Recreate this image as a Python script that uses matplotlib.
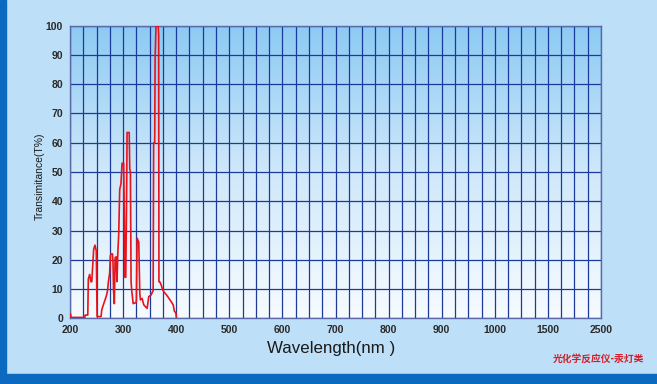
import numpy as np
import matplotlib
matplotlib.use("Agg")
import matplotlib.pyplot as plt
from matplotlib.patches import Rectangle

# spectrum (wavelength nm, transmittance %)
wavelength = [200, 201, 202, 228, 228.5, 233.5, 234.5, 237, 239.5, 241, 244.6, 247, 249.5, 251,
              258.5, 259.8, 262.8, 266, 269, 271, 272, 274.7, 276, 277, 280, 281, 282, 283.5,
              285, 287, 288.5, 290, 291.8, 293.6, 296, 298, 301, 302.5, 303.5, 305, 306.5,
              307.5, 311.5, 312.5, 313.8, 315, 316.5, 319, 320, 323.8, 325, 326.4, 329.5,
              331.4, 332.6, 335.8, 338.9, 342, 345.3, 348.3, 352.8, 355.3, 356.6, 357.5,
              359.5, 360.3, 362, 366, 367, 367.5, 369, 371.7, 374.7, 376.6, 381.7, 386,
              390.5, 394.3, 396.8, 399.2, 400.5]
transmittance = [1.5, 1.5, 0.3, 0.3, 1.1, 1.1, 13.4, 15, 12.5, 12.5, 23.6, 25, 23, 0.6,
                 0.6, 2.9, 4.6, 6.3, 8, 9.8, 12, 15.5, 21.3, 22, 22, 19, 9.5, 5,
                 20.7, 21, 12.5, 22, 29, 44, 46, 53, 53, 32, 14, 14, 40,
                 63.5, 63.5, 51, 50, 12.5, 9, 5, 5.1, 5.3, 6, 27.4, 26,
                 8.6, 6.3, 6.8, 4.6, 4, 3.4, 7.4, 8, 9, 9.5, 60,
                 60, 89, 100, 100, 97, 12.5, 12.5, 11.4, 9.7, 9.1, 8, 6.9,
                 5.7, 4.6, 2.3, 2, 0]

x_ticks = [200, 300, 400, 500, 600, 700, 800, 900, 1000, 1500, 2500]
y_ticks = [0, 10, 20, 30, 40, 50, 60, 70, 80, 90, 100]

# the axis is linear up to 1000 nm, then compressed
brk_nm = [200, 1000, 1500, 2500]
brk_pos = [0, 8, 9, 10]


def fwd(x):
    return np.interp(x, brk_nm, brk_pos)


def inv(p):
    return np.interp(p, brk_pos, brk_nm)


minor = np.concatenate([np.arange(200, 1000, 25), np.arange(1000, 1500, 125),
                        np.arange(1500, 2501, 250)])

fig = plt.figure(figsize=(6.57, 3.84), dpi=100)
fig.patch.set_facecolor("#bddff7")

# dark frame strips
fig.add_artist(Rectangle((0, 0), 6 / 657, 1, transform=fig.transFigure,
                         color="#0b69bf", zorder=0))
fig.add_artist(Rectangle((0, 0), 1, 10 / 384, transform=fig.transFigure,
                         color="#0b69bf", zorder=0))

ax = fig.add_axes([70 / 657, 1 - 318.3 / 384, 531 / 657, 292.6 / 384])
ax.set_xscale("function", functions=(fwd, inv))
ax.set_xlim(200, 2500)
ax.set_ylim(0, 100)

# blue-to-white gradient inside the plot area
grad = np.linspace(0, 1, 256).reshape(-1, 1)
cmap = matplotlib.colors.LinearSegmentedColormap.from_list(
    "bg", ["#f6fbff", "#cfe8fa", "#8ccaf3"])
ax.imshow(grad, extent=[0, 1, 0, 1], transform=ax.transAxes, origin="lower",
          aspect="auto", cmap=cmap, zorder=0)

grid_c = "#1c3a9c"
for v in minor:
    ax.axvline(v, color=grid_c, lw=0.9, zorder=1)
for v in y_ticks:
    ax.axhline(v, color=grid_c, lw=0.9, zorder=1)

ax.plot(wavelength, transmittance, color="#e8141c", lw=1.2, zorder=3)

ax.set_xticks(x_ticks)
ax.set_xticklabels([str(t) for t in x_ticks])
ax.set_xticks([], minor=True)
ax.set_yticks(y_ticks)
ax.tick_params(length=0, labelsize=7.5, labelcolor="#2a2a2a")
ax.tick_params(axis="x", pad=5)
ax.tick_params(axis="y", pad=5)
for lab in ax.get_xticklabels() + ax.get_yticklabels():
    lab.set_family("Liberation Sans")
    lab.set_fontweight("bold")
for s in ax.spines.values():
    s.set_color("#5a6aa8")
    s.set_linewidth(1)

fig.text(331 / 657, 1 - 348 / 384, "Wavelength(nm )", ha="center", va="center",
         fontsize=12.2, family="Liberation Sans", color="#1a1a1a")
fig.text(40 / 657, 1 - 176 / 384, "Transimitance(T%)", ha="center", va="center",
         rotation=90, fontsize=7.5, family="Liberation Sans", color="#1a1a1a")
fig.text(598 / 657, 1 - 359 / 384, "光化学反应仪-汞灯类", ha="center", va="center",
         fontsize=7, family=["Noto Sans CJK SC", "DejaVu Sans"],
         fontweight="bold", color="#d41f2a")

fig.savefig("out.png", dpi=100, facecolor=fig.get_facecolor())
